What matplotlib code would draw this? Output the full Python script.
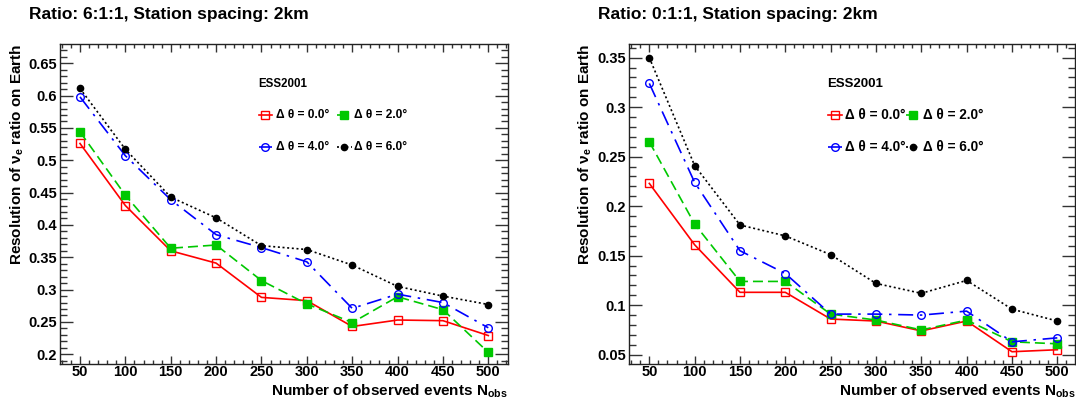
import matplotlib
matplotlib.use("Agg")
import matplotlib.pyplot as plt
from matplotlib.ticker import MultipleLocator, FuncFormatter
from matplotlib.lines import Line2D

plt.rcParams['font.family'] = ['Liberation Sans', 'DejaVu Sans']
plt.rcParams['font.weight'] = 'bold'
plt.rcParams['mathtext.fontset'] = 'custom'
plt.rcParams['mathtext.rm'] = 'Liberation Sans:bold'
plt.rcParams['mathtext.it'] = 'Liberation Sans:bold'
plt.rcParams['mathtext.bf'] = 'Liberation Sans:bold'

# ---------------- data ----------------
n_obs = [50, 100, 150, 200, 250, 300, 350, 400, 450, 500]

left_d00 = [0.526, 0.430, 0.360, 0.341, 0.288, 0.283, 0.243, 0.253, 0.252, 0.229]
left_d20 = [0.544, 0.446, 0.364, 0.369, 0.314, 0.278, 0.249, 0.289, 0.269, 0.203]
left_d40 = [0.598, 0.507, 0.439, 0.385, 0.365, 0.343, 0.271, 0.293, 0.280, 0.241]
left_d60 = [0.611, 0.517, 0.443, 0.411, 0.368, 0.362, 0.338, 0.305, 0.290, 0.277]

right_d00 = [0.223, 0.161, 0.113, 0.113, 0.086, 0.084, 0.074, 0.084, 0.053, 0.055]
right_d20 = [0.265, 0.182, 0.124, 0.124, 0.091, 0.085, 0.075, 0.085, 0.063, 0.061]
right_d40 = [0.324, 0.224, 0.155, 0.132, 0.091, 0.091, 0.090, 0.094, 0.063, 0.067]
right_d60 = [0.350, 0.241, 0.181, 0.170, 0.151, 0.122, 0.112, 0.125, 0.096, 0.084]

series_labels = ['Δ θ = 0.0°', 'Δ θ = 2.0°', 'Δ θ = 4.0°', 'Δ θ = 6.0°']
titles = ['Ratio: 6:1:1, Station spacing: 2km', 'Ratio: 0:1:1, Station spacing: 2km']
legend_header = 'ESS2001'
xlabel = r'Number of observed events $\mathregular{N_{obs}}$'
ylabel = r'Resolution of $\mathregular{\nu_{e}}$ ratio on Earth'

# ---------------- styles ----------------
styles = [
    dict(color='#ff0000', linestyle='-', marker='s', mfc='none', ms=5.5, mew=1.0),
    dict(color='#00c800', linestyle=(0, (6, 3)), marker='s', mfc='#00c800', ms=5.5, mew=1.0),
    dict(color='#0000ff', linestyle=(0, (9, 4, 1.5, 4)), marker='o', mfc='none', ms=5.5, mew=1.0),
    dict(color='#000000', linestyle=(0, (1.2, 1.6)), marker='o', mfc='#000000', ms=4.5, mew=1.0),
]

W, H = 1076, 403
fig = plt.figure(figsize=(W / 100, H / 100), dpi=100)

panels = [
    dict(rect=[60 / W, (H - 364) / H, (508 - 60) / W, (364 - 44) / H],
         data=[left_d00, left_d20, left_d40, left_d60],
         xlim=(27.96, 521.7), ylim=(0.185, 0.6798),
         title_x=29, ylab_x=17, xlab_right=508, legfs=8.0,
         leg=dict(hx=0.442, c1=(0.444, 0.473, 0.482), c2=(0.618, 0.652, 0.656))),
    dict(rect=[629 / W, (H - 364) / H, (1075 - 629) / W, (364 - 44) / H],
         data=[right_d00, right_d20, right_d40, right_d60],
         xlim=(27.6, 519.5), ylim=(0.0406, 0.3638),
         title_x=598, ylab_x=585, xlab_right=1076, legfs=9.2,
         leg=dict(hx=0.444, c1=(0.446, 0.478, 0.484), c2=(0.621, 0.652, 0.659))),
]

fmt = FuncFormatter(lambda v, p: ('%g' % round(v, 4)))

for i, p in enumerate(panels):
    ax = fig.add_axes(p['rect'])
    for vals, st in zip(p['data'], styles):
        ax.plot(n_obs, vals, lw=1.2, **st)
    ax.set_xlim(*p['xlim'])
    ax.set_ylim(*p['ylim'])
    ax.xaxis.set_major_locator(MultipleLocator(50))
    ax.xaxis.set_minor_locator(MultipleLocator(10))
    ax.yaxis.set_major_locator(MultipleLocator(0.05))
    ax.yaxis.set_minor_locator(MultipleLocator(0.01))
    ax.yaxis.set_major_formatter(fmt)
    ax.tick_params(axis='both', which='both', direction='in', top=True, right=True,
                   color='#333333', width=1.0)
    ax.tick_params(axis='x', which='major', length=5.8, pad=1, labelsize=10.5)
    ax.tick_params(axis='x', which='minor', length=3.0)
    ax.tick_params(axis='y', which='major', length=9.4, pad=2, labelsize=10.5)
    ax.tick_params(axis='y', which='minor', length=4.8)
    for lab in ax.get_xticklabels() + ax.get_yticklabels():
        lab.set_fontweight('bold')
    for sp in ax.spines.values():
        sp.set_linewidth(1.0)
        sp.set_color('#222222')

    # legend (ROOT style, manual)
    lg = p['leg']
    ax.text(lg['hx'], 0.875, legend_header, transform=ax.transAxes, fontsize=p['legfs'] + 0.3,
            fontweight='bold', va='center', ha='left')
    rows = [0.778, 0.678]
    for k, (lab, st) in enumerate(zip(series_labels, styles)):
        col = lg['c1'] if k % 2 == 0 else lg['c2']
        yy = rows[k // 2]
        ln = Line2D([col[0], col[1]], [yy, yy], transform=ax.transAxes, lw=1.2,
                    color=st['color'], linestyle=st['linestyle'], clip_on=False)
        ax.add_line(ln)
        mk = Line2D([(col[0] + col[1]) / 2], [yy], transform=ax.transAxes, linestyle='none',
                    color=st['color'], marker=st['marker'], mfc=st['mfc'], ms=st['ms'],
                    mew=st['mew'], clip_on=False)
        ax.add_line(mk)
        ax.text(col[2], yy, lab, transform=ax.transAxes, fontsize=p['legfs'] + 0.6,
                fontweight='bold', va='center', ha='left')

    fig.text(p['title_x'] / W, 1 - 15 / H, titles[i], fontsize=12.5, fontweight='bold',
             ha='left', va='center')
    fig.text(p['ylab_x'] / W, 1 - 44 / H, ylabel, rotation=90, fontsize=11,
             fontweight='bold', ha='center', va='top')
    fig.text(p['xlab_right'] / W, 1 - 396 / H, xlabel, fontsize=11, fontweight='bold',
             ha='right', va='baseline')

fig.savefig('out.png', dpi=100)
